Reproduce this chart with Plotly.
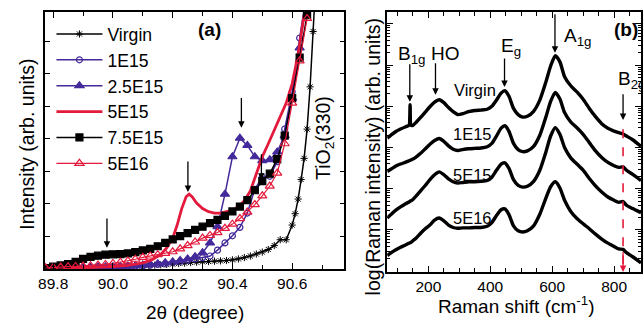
import plotly.graph_objects as go

W, H = 643, 324

# ---------------- Panel (a): XRD ----------------
theta_grid = [89.775, 89.800, 89.825, 89.850, 89.875, 89.900, 89.925, 89.950, 89.975,
              90.000, 90.025, 90.050, 90.075, 90.100, 90.125, 90.150, 90.175, 90.200,
              90.225, 90.250, 90.275, 90.300, 90.325, 90.350, 90.375, 90.400, 90.425,
              90.450, 90.475, 90.500, 90.525, 90.550, 90.575, 90.600, 90.625, 90.650]

i_1e15 = [0.02, 0.03, 0.03, 0.04, 0.04, 0.04, 0.05, 0.05, 0.06,
          0.06, 0.07, 0.08, 0.09, 0.10, 0.12, 0.14, 0.16, 0.19,
          0.23, 0.27, 0.31, 0.35, 0.40, 0.58, 0.80, 1.02, 1.28,
          1.72, 2.45, 2.83, 2.85, 3.30, 4.30, 5.45, 7.10, 8.60]

i_25e15 = [0.02, 0.03, 0.03, 0.04, 0.04, 0.05, 0.05, 0.06, 0.06,
           0.07, 0.08, 0.09, 0.10, 0.12, 0.14, 0.16, 0.19, 0.22,
           0.26, 0.31, 0.38, 0.50, 0.80, 1.30, 2.30, 3.45, 4.02,
           3.80, 3.45, 3.33, 3.36, 3.60, 4.10, 5.25, 6.80, 8.40]

i_75e15 = [0.03, 0.07, 0.11, 0.15, 0.22, 0.31, 0.37, 0.41, 0.44,
           0.45, 0.46, 0.48, 0.52, 0.57, 0.62, 0.70, 0.80, 0.91,
           1.01, 1.10, 1.20, 1.30, 1.41, 1.51, 1.63, 1.77, 1.92,
           2.12, 2.42, 2.70, 2.93, 3.38, 4.10, 5.25, 6.50, 7.80]

i_5e16 = [0.03, 0.05, 0.06, 0.07, 0.08, 0.09, 0.10, 0.12, 0.14,
          0.17, 0.21, 0.25, 0.30, 0.36, 0.40, 0.44, 0.48, 0.53,
          0.62, 0.72, 0.83, 0.95, 1.03, 1.12, 1.25, 1.38, 1.55,
          1.75, 1.98, 2.25, 2.55, 2.95, 3.85, 5.10, 6.40, 7.70]

theta_5e15 = [89.775, 89.85, 89.95, 90.00, 90.05, 90.10, 90.13, 90.16, 90.18, 90.20,
              90.215, 90.23, 90.245, 90.255, 90.265, 90.28, 90.30, 90.32, 90.34, 90.36,
              90.38, 90.40, 90.42, 90.44, 90.46, 90.48, 90.50, 90.52, 90.54, 90.56,
              90.58, 90.60, 90.62, 90.64, 90.65]
i_5e15 = [0.00, 0.02, 0.05, 0.07, 0.11, 0.19, 0.28, 0.45, 0.65, 0.95,
          1.35, 1.85, 2.22, 2.30, 2.22, 2.03, 1.86, 1.76, 1.72, 1.72,
          1.76, 1.80, 1.92, 2.10, 2.40, 2.90, 3.45, 3.85, 4.25, 4.65,
          5.10, 5.70, 6.60, 7.80, 8.50]

theta_virgin = [89.78, 89.80, 89.82, 89.84, 89.86, 89.88, 89.90, 89.92, 89.94, 89.96,
                89.98, 90.00, 90.02, 90.04, 90.06, 90.08, 90.10, 90.12, 90.14, 90.16,
                90.18, 90.20, 90.22, 90.24, 90.26, 90.28, 90.30, 90.32, 90.34, 90.36,
                90.38, 90.40, 90.42, 90.44, 90.46, 90.48, 90.50, 90.52, 90.54, 90.56,
                90.58, 90.60, 90.61, 90.62, 90.63, 90.64, 90.65, 90.66, 90.67, 90.68]
i_virgin = [0.01, 0.02, 0.02, 0.03, 0.03, 0.03, 0.04, 0.04, 0.05, 0.05,
            0.06, 0.06, 0.07, 0.07, 0.08, 0.09, 0.10, 0.11, 0.12, 0.13,
            0.14, 0.15, 0.17, 0.18, 0.20, 0.21, 0.22, 0.23, 0.24, 0.25,
            0.26, 0.28, 0.31, 0.35, 0.40, 0.46, 0.52, 0.60, 0.72, 0.90,
            0.90, 1.35, 1.70, 2.15, 2.75, 3.40, 4.30, 5.60, 7.30, 9.00]

# ---------------- Panel (b): Raman (log10 intensity) ----------------
raman_shift = [67, 80, 95, 110, 125, 135, 138, 141, 144, 150, 160, 175, 190, 205, 220,
               235, 250, 265, 280, 295, 310, 330, 350, 370, 390, 405, 420, 435, 447,
               460, 475, 490, 505, 520, 540, 560, 580, 595, 610, 625, 640, 660, 680,
               700, 720, 740, 760, 780, 800, 815, 829, 840, 860, 887]

log_virgin = [3.23, 3.31, 3.39, 3.45, 3.50, 3.53, 3.54, 4.04, 3.54, 3.54, 3.61, 3.73, 3.86, 3.99, 4.10,
              4.16, 4.09, 3.97, 3.87, 3.80, 3.82, 3.87, 3.90, 3.91, 3.93, 4.00, 4.15, 4.32, 4.38,
              4.25, 3.95, 3.80, 3.74, 3.76, 3.88, 4.15, 4.60, 4.98, 5.23, 5.08, 4.72, 4.50, 4.35,
              4.17, 3.95, 3.75, 3.58, 3.47, 3.40, 3.36, 3.33, 3.28, 3.19, 3.03]
log_1e15 = [2.42, 2.48, 2.55, 2.60, 2.64, 2.67, 2.68, 2.69, 2.70, 2.72, 2.77, 2.86, 2.97, 3.08, 3.17,
            3.22, 3.15, 3.04, 2.96, 2.93, 2.95, 2.97, 2.98, 2.99, 3.02, 3.10, 3.28, 3.47, 3.53,
            3.40, 3.10, 2.95, 2.90, 2.92, 3.03, 3.30, 3.75, 4.12, 4.34, 4.18, 3.85, 3.62, 3.48,
            3.32, 3.12, 2.92, 2.76, 2.64, 2.56, 2.52, 2.53, 2.45, 2.35, 2.20]
log_5e15 = [1.29, 1.38, 1.48, 1.56, 1.63, 1.67, 1.68, 1.70, 1.71, 1.74, 1.82, 1.95, 2.08, 2.22, 2.34,
            2.41, 2.34, 2.24, 2.17, 2.14, 2.15, 2.17, 2.17, 2.18, 2.20, 2.28, 2.45, 2.60, 2.63,
            2.50, 2.22, 2.08, 2.04, 2.06, 2.18, 2.45, 2.90, 3.28, 3.48, 3.32, 3.00, 2.75, 2.60,
            2.45, 2.25, 2.07, 1.92, 1.80, 1.72, 1.67, 1.69, 1.60, 1.52, 1.42]
log_5e16 = [0.38, 0.45, 0.52, 0.58, 0.63, 0.67, 0.68, 0.69, 0.70, 0.74, 0.80, 0.92, 1.03, 1.12, 1.24,
            1.29, 1.22, 1.12, 1.06, 1.04, 1.05, 1.05, 1.06, 1.06, 1.09, 1.18, 1.35, 1.49, 1.51,
            1.38, 1.10, 0.98, 0.95, 0.98, 1.10, 1.38, 1.78, 2.05, 2.17, 2.02, 1.72, 1.45, 1.28,
            1.15, 1.03, 0.90, 0.78, 0.68, 0.60, 0.54, 0.53, 0.45, 0.35, 0.20]

INDIGO = "#43299a"
RED = "#e41a3c"
FONT = "Liberation Sans, Arial, sans-serif"

fig = go.Figure()

def add_a(name, x, y, color, symbol, size, lw, mode="lines+markers", mlw=1.2):
    fig.add_trace(go.Scatter(
        x=x, y=y, name=name, mode=mode, xaxis="x", yaxis="y",
        line=dict(color=color, width=lw),
        marker=dict(symbol=symbol, size=size, color=color,
                    line=dict(color=color, width=mlw)),
    ))

add_a("Virgin", theta_virgin, i_virgin, "black", "asterisk-open", 6, 1.5, mlw=1)
add_a("1E15", theta_grid, i_1e15, INDIGO, "circle-open", 6, 1.5)
add_a("2.5E15", theta_grid, i_25e15, INDIGO, "triangle-up", 8, 1.5)
add_a("5E15", theta_5e15, i_5e15, RED, "circle", 1, 2.8, mode="lines")
add_a("7.5E15", theta_grid, i_75e15, "black", "square", 7, 1.5)
add_a("5E16", theta_grid, i_5e16, RED, "triangle-up-open", 8, 1.2)

for vals in [log_virgin, log_1e15, log_5e15, log_5e16]:
    fig.add_trace(go.Scatter(
        x=raman_shift, y=[10 ** v for v in vals], mode="lines",
        xaxis="x2", yaxis="y2", showlegend=False,
        line=dict(color="black", width=3.4, shape="spline", smoothing=0.6),
    ))

ax_common = dict(showline=True, linecolor="black", linewidth=1.5, mirror="ticks",
                 ticks="inside", tickcolor="black", showgrid=False, zeroline=False,
                 tickfont=dict(family=FONT, size=15.5, color="black"))

fig.update_layout(
    width=W, height=H, margin=dict(l=0, r=0, t=0, b=0),
    paper_bgcolor="white", plot_bgcolor="white",
    font=dict(family=FONT, color="black"),
    xaxis=dict(domain=[38.3 / W, 341.7 / W], range=[89.772, 90.775], tick0=89.8, dtick=0.2,
               tickformat=".1f", ticklen=6, minor=dict(ticks="inside", dtick=0.1, ticklen=4, tickcolor="black"),
               anchor="y", **ax_common),
    yaxis=dict(domain=[1 - 269 / H, 1 - 12 / H], range=[0, 7.9], dtick=1, ticklen=5,
               showticklabels=False, anchor="x", **ax_common),
    xaxis2=dict(domain=[385 / W, 642 / W], range=[67, 887], tick0=0, dtick=200, ticklen=6,
                minor=dict(ticks="inside", dtick=50, ticklen=4, tickcolor="black"),
                anchor="y2", **ax_common),
    yaxis2=dict(domain=[1 - 272 / H, 1 - 12 / H], type="log", range=[-0.02, 6.29], dtick=1,
                ticklen=6, showticklabels=False,
                minor=dict(ticks="inside", dtick="D1", ticklen=3, tickcolor="black"),
                anchor="x2", **ax_common),
    legend=dict(x=45 / W, y=1 - 16 / H, xanchor="left", yanchor="top",
                bgcolor="rgba(0,0,0,0)", font=dict(family=FONT, size=17.6, color="black"),
                itemwidth=46, tracegroupgap=0),
)

def px(x, y, text, size=19, xanchor="center", yanchor="middle", angle=0, bold=False):
    fig.add_annotation(x=x / W, y=1 - y / H, xref="paper", yref="paper", text=text,
                       showarrow=False, xanchor=xanchor, yanchor=yanchor, textangle=angle,
                       font=dict(family=FONT, size=size, color="black",
                                 weight="bold" if bold else "normal"))

# axis titles
px(20, 144, "Intensity (arb. units)", size=19.5, angle=-90)
px(190, 312, "2θ (degree)", size=19)
px(371, 157, "log(Raman intensity) (arb. units)", size=19.5, angle=-90)
px(515, 305, "Raman shift (cm<sup>-1</sup>)", size=19)

# panel labels
px(205, 30, "(a)", size=19, bold=True)
px(613, 30, "(b)", size=19, xanchor="left", bold=True)
px(321, 138, "TiO<sub>2</sub>(330)", size=19.5, angle=-90)

# Raman mode labels
px(394, 55, "B<sub>1g</sub>", xanchor="left")
px(427, 53, "HO", xanchor="left")
px(498, 47, "E<sub>g</sub>", xanchor="left")
px(562, 37, "A<sub>1g</sub>", xanchor="left")
px(617, 80, "B<sub>2g</sub>", xanchor="left")
px(497, 90, "Virgin", size=16.5, xanchor="right")
px(493, 134, "1E15", size=16.5, xanchor="right")
px(493, 175, "5E15", size=16.5, xanchor="right")
px(493, 218, "5E16", size=16.5, xanchor="right")

def arrow(xref, yref, x, y0, y1, color="black"):
    fig.add_annotation(x=x, y=y1, ax=x, ay=y0, xref=xref, yref=yref, axref=xref, ayref=yref,
                       text="", showarrow=True, arrowhead=2, arrowsize=1, arrowwidth=1.3,
                       arrowcolor=color)

# panel (a) arrows
arrow("x", "y", 89.98, 1.6, 0.65)
arrow("x", "y", 90.251, 3.35, 2.37)
arrow("x", "y", 90.430, 5.3, 4.34)
arrow("x", "y", 90.497, 3.57, 2.74)

# panel (b) arrows (log10 units)
arrow("x2", "y2", 140, 5.06, 4.11)
arrow("x2", "y2", 223, 5.08, 4.28)
arrow("x2", "y2", 446, 5.20, 4.47)
arrow("x2", "y2", 609, 6.27, 5.30)
arrow("x2", "y2", 829, 4.33, 3.67)

# red dashed B2g marker line
fig.add_shape(type="line", xref="x2", yref="y2 domain", x0=829, x1=829,
              y0=0.03, y1=(272 - 123) / 260, line=dict(color=RED, width=1.6, dash="dash"))
arrow("x2", "y2", 829, 0.5, -0.02, color=RED)

fig.write_html("out.html", config={"displayModeBar": False},
               post_script="document.body.style.margin='0px';")
